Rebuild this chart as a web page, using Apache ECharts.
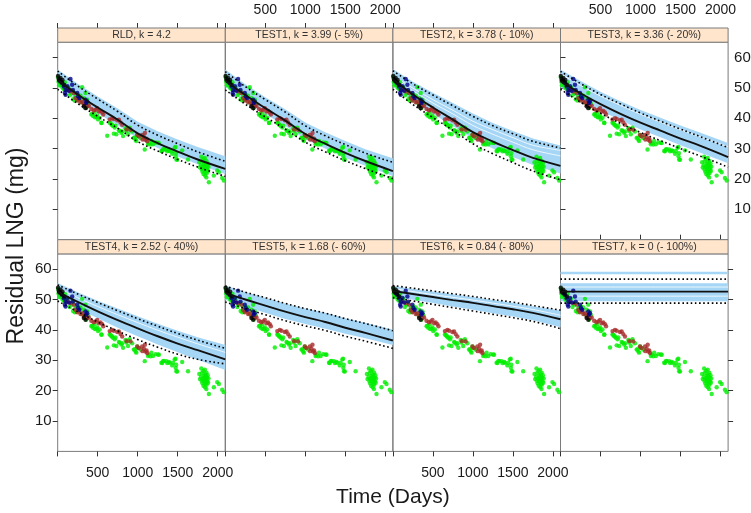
<!DOCTYPE html>
<html><head><meta charset="utf-8">
<script src="https://cdn.jsdelivr.net/npm/echarts@6/dist/echarts.min.js"></script>
<style>html,body{margin:0;padding:0;background:#fff}#c{width:751px;height:513px}</style>
</head><body><div id="c"></div>
<script>
// ---------------- data ----------------
const panelTitles = ['RLD, k = 4.2','TEST1, k = 3.99 (- 5%)','TEST2, k = 3.78 (- 10%)','TEST3, k = 3.36 (- 20%)',
                     'TEST4, k = 2.52 (- 40%)','TEST5, k = 1.68 (- 60%)','TEST6, k = 0.84 (- 80%)','TEST7, k = 0 (- 100%)'];
const xTickValues = [0, 500, 1000, 1500, 2000];
const xLabelValues = [500, 1000, 1500, 2000];
const yTickValues = [10, 20, 30, 40, 50, 60];
const times = [0, 250, 500, 750, 1000, 1250, 1500, 1750, 2095];

const medRLD = [52.6, 47.8, 43.5, 39.5, 35.0, 31.8, 29.0, 26.4, 23.3];
const hiRLD  = [56.0, 51.3, 47.1, 43.2, 38.8, 35.7, 33.0, 30.5, 27.5];
const loRLD  = [50.5, 45.8, 41.6, 37.7, 33.3, 30.2, 27.4, 24.8, 21.6];
const dHiRLD = [55.5, 50.6, 46.3, 42.2, 37.7, 34.4, 31.6, 28.9, 25.8];
const dLoRLD = [49.5, 44.8, 40.6, 36.7, 32.3, 29.2, 26.4, 23.9, 20.8];

const med1 = [52.4, 47.6, 43.3, 39.2, 34.8, 31.6, 28.6, 25.9, 22.6];
const hi1  = [56.0, 51.2, 46.9, 42.9, 38.6, 35.4, 32.5, 29.8, 26.8];
const lo1  = [50.3, 45.6, 41.4, 37.4, 33.1, 30.0, 27.0, 24.3, 21.0];
const dHi1 = [55.3, 50.4, 46.1, 42.0, 37.5, 34.2, 31.3, 28.5, 25.5];
const dLo1 = [49.3, 44.6, 40.4, 36.4, 32.1, 28.9, 26.0, 23.4, 20.1];

const med2 = [52.8, 47.8, 43.5, 39.5, 35.4, 32.3, 29.5, 26.9, 24.3];
const hi2  = [56.2, 52.0, 48.4, 45.0, 41.5, 38.4, 35.8, 33.3, 31.0];
const lo2  = [50.4, 45.6, 41.4, 37.4, 33.2, 30.0, 27.2, 24.6, 21.8];
const dHi2 = [55.6, 51.3, 47.6, 44.1, 40.6, 37.5, 34.9, 32.4, 30.2];
const dLo2 = [49.5, 44.5, 40.2, 36.0, 31.6, 28.3, 25.4, 22.6, 19.7];
const wA2  = [54.0, 49.9, 46.1, 42.6, 39.0, 36.2, 33.6, 31.1, 29.4];
const wB2  = [53.4, 49.0, 45.0, 41.4, 37.6, 34.7, 32.1, 29.6, 27.6];

const med3 = [52.2, 48.2, 44.6, 41.4, 38.5, 35.9, 33.3, 30.9, 27.2];
const hi3  = [56.0, 52.2, 48.7, 45.6, 42.7, 40.1, 37.6, 35.2, 31.8];
const lo3  = [50.2, 46.2, 42.5, 39.3, 36.3, 33.7, 31.1, 28.6, 25.2];
const dHi3 = [55.4, 51.4, 47.8, 44.7, 41.7, 39.0, 36.4, 33.9, 30.3];
const dLo3 = [49.5, 45.3, 41.6, 38.3, 35.3, 32.6, 30.0, 27.5, 23.9];
const wA3  = [54.6, 50.8, 47.3, 44.2, 41.3, 38.7, 36.2, 33.8, 30.6];

const med4 = [52.5, 49.2, 46.1, 43.2, 40.5, 37.9, 35.5, 33.3, 30.3];
const hi4  = [55.4, 52.4, 49.6, 47.0, 44.5, 42.0, 39.7, 37.6, 35.0];
const lo4  = [50.5, 47.0, 43.8, 40.7, 37.9, 35.2, 32.6, 30.2, 26.8];
const dHi4 = [54.8, 51.8, 49.0, 46.3, 43.7, 41.2, 38.8, 36.6, 33.9];
const dLo4 = [49.5, 46.0, 42.6, 39.6, 36.8, 34.3, 32.0, 30.3, 28.8];
const wA4  = [53.8, 50.6, 47.7, 45.0, 42.4, 39.9, 37.6, 35.4, 32.6];

const med5 = [52.2, 50.0, 48.0, 46.0, 44.2, 42.6, 40.7, 39.0, 36.5];
const hi5  = [54.6, 52.5, 50.6, 48.7, 47.0, 45.6, 43.8, 42.3, 40.1];
const lo5  = [49.8, 47.6, 45.6, 43.6, 41.9, 40.4, 38.7, 37.2, 35.0];
const dHi5 = [54.4, 52.4, 50.6, 48.7, 47.0, 45.5, 43.7, 42.1, 39.7];
const dLo5 = [49.2, 47.0, 45.0, 43.0, 41.3, 39.8, 37.9, 36.3, 33.9];

const med6 = [52.8, 51.8, 50.8, 49.8, 48.9, 47.8, 46.8, 45.6, 43.5];
const hi6  = [54.4, 53.5, 52.6, 51.7, 50.8, 49.8, 48.9, 47.8, 46.4];
const lo6  = [51.0, 49.9, 48.8, 47.7, 46.6, 45.5, 44.4, 43.2, 40.9];
const dHi6 = [54.6, 53.7, 52.8, 51.9, 51.0, 50.0, 49.1, 48.0, 46.5];
const dLo6 = [50.6, 49.5, 48.4, 47.3, 46.2, 45.1, 44.0, 42.8, 40.4];
const wA6  = [53.6, 52.6, 51.6, 50.7, 49.8, 48.8, 47.8, 46.7, 44.8];

const med7 = [52.6, 52.6, 52.6, 52.6, 52.6, 52.6, 52.6, 52.6, 52.6];
const hi7  = [55.3, 55.3, 55.3, 55.3, 55.3, 55.3, 55.3, 55.3, 55.3];
const lo7  = [49.4, 49.4, 49.4, 49.4, 49.4, 49.4, 49.4, 49.4, 49.4];
const dHi7 = [56.7, 56.7, 56.7, 56.7, 56.7, 56.7, 56.7, 56.7, 56.7];
const dLo7 = [48.8, 48.8, 48.8, 48.8, 48.8, 48.8, 48.8, 48.8, 48.8];
const hiB7 = [59.1, 59.1, 59.1, 59.1, 59.1, 59.1, 59.1, 59.1, 59.1];
const loB7 = [58.3, 58.3, 58.3, 58.3, 58.3, 58.3, 58.3, 58.3, 58.3];
const wA7  = [54.1, 54.1, 54.1, 54.1, 54.1, 54.1, 54.1, 54.1, 54.1];
const wB7  = [51.1, 51.1, 51.1, 51.1, 51.1, 51.1, 51.1, 51.1, 51.1];

// observed data (same in every panel): [days, mg]
const greenPts = [[5,53.5],[10,52.0],[18,50.8],[25,52.6],[35,51.4],[48,51.0],[60,50.0],[77,49.6],[90,51.8],[110,49.2],
 [131,50.2],[150,47.5],[173,48.3],[190,48.8],[192,46.2],[212,45.8],[223,47.2],[240,46.0],[256,47.7],[285,47.4],[300,45.2],
 [306,50.2],[327,46.6],[340,44.6],[348,48.3],[358,43.4],[369,46.1],[380,44.8],
 [421,41.2],[431,41.4],[442,40.7],[462,41.8],[465,40.3],[483,40.4],[494,40.8],[504,39.6],[525,40.1],[546,38.5],[548,38.4],
 [619,34.2],[650,38.5],[660,38.4],[671,37.9],[681,37.8],[692,37.4],[702,34.9],[713,36.9],[723,37.5],[733,34.7],[765,36.0],
 [775,35.8],[796,35.2],[806,35.6],[817,34.1],[848,36.7],[858,35.8],[879,34.7],[881,36.4],[900,36.9],[931,35.6],[952,33.5],
 [963,33.6],[973,32.9],[983,32.5],[994,34.5],[1004,34.1],[1035,33.5],[1088,29.7],[1129,31.4],[1140,31.8],[1160,31.3],
 [1171,32.5],[1192,31.4],[1223,32.0],[1254,31.9],[1265,31.8],[1296,29.2],[1306,29.1],[1317,29.7],[1327,29.8],[1358,29.7],
 [1369,29.1],[1390,29.4],[1400,29.2],[1431,28.3],[1442,29.2],[1463,30.3],[1473,30.5],[1475,27.5],[1481,28.5],[1483,26.4],
 [1494,26.3],[1556,29.4],[1629,26.4],
 [1770,25.5],[1778,23.8],[1790,24.5],[1795,27.3],[1800,23.2],[1805,25.8],[1810,22.4],[1815,24.0],[1820,26.5],[1822,21.6],
 [1828,23.6],[1830,25.0],[1835,22.9],[1838,24.4],[1840,26.9],[1842,21.1],[1845,23.9],[1848,25.3],[1850,22.3],[1853,24.7],
 [1856,23.3],[1858,20.5],[1860,25.9],[1862,21.9],[1866,24.2],[1870,23.0],[1875,25.1],[1880,22.6],[1885,24.0],[1890,18.9],
 [1952,21.1],[1994,22.8],[2015,22.2],[2056,20.3],[2077,19.5]];
const brownPts = [[119,49.3],[160,48.8],[202,48.3],[223,46.6],[244,45.8],[265,46.3],[285,45.2],[306,45.5],[327,44.4],
 [348,45.0],[369,43.9],[390,44.1],[420,43.0],[450,42.5],[473,42.8],[494,43.3],[515,42.2],[535,42.4],[556,41.9],[570,41.2],
 [650,39.6],[681,40.0],[702,39.7],[744,39.3],[765,39.5],[785,38.6],[806,37.8],[860,36.3],[910,36.2],[994,34.5],[1015,34.0],
 [1056,34.5],[1060,33.0],[1077,33.8],[1090,35.1],[1098,32.9],[1110,33.2],[1119,32.4]];
const bluePts = [[35,52.1],[56,51.5],[77,50.4],[90,48.3],[98,49.3],[98,47.7],[120,50.5],[140,49.0],[160,52.9],[181,51.0],
 [190,49.3],[244,48.3],[256,47.2],[273,46.6],[348,46.1],[356,45.0],[369,45.5]];
const blackPts = [[4,53.9],[12,52.9],[20,52.4],[35,53.2],[50,51.8],[60,52.6],[80,51.0],[327,43.9],[348,43.3]];

// ---------------- layout / style ----------------
const PL = 57.7, PW = 167.6, STRIP = 14.2, PH = 197.5;
const rowTop = [28, 28 + STRIP + PH];
const XMAX = 2095, YMAX = 65;
const BAND = '#a6d6f5', FONT = '"Liberation Sans", Arial, sans-serif', BORDER = '#7a7a7a', TXT = '#1a1a1a';

const panels = [
  {med: medRLD, hi: hiRLD, lo: loRLD, dHi: dHiRLD, dLo: dLoRLD, whites: []},
  {med: med1, hi: hi1, lo: lo1, dHi: dHi1, dLo: dLo1, whites: []},
  {med: med2, hi: hi2, lo: lo2, dHi: dHi2, dLo: dLo2, whites: [wA2, wB2]},
  {med: med3, hi: hi3, lo: lo3, dHi: dHi3, dLo: dLo3, whites: [wA3]},
  {med: med4, hi: hi4, lo: lo4, dHi: dHi4, dLo: dLo4, whites: [wA4]},
  {med: med5, hi: hi5, lo: lo5, dHi: dHi5, dLo: dLo5, whites: []},
  {med: med6, hi: hi6, lo: lo6, dHi: dHi6, dLo: dLo6, whites: [wA6]},
  {med: med7, hi: hi7, lo: lo7, dHi: dHi7, dLo: dLo7, whites: [wA7, wB7], extra: [loB7, hiB7]}
];

const grids = [], xAxes = [], yAxes = [], series = [], graphics = [];
const pairs = arr => times.map((t, i) => [t, arr[i]]);
const tick = {show: true, length: 5, lineStyle: {color: '#333'}};
const plain = v => String(v);

function xAxisDef(grid, position, showLabels, extra) {
  return Object.assign({gridIndex: grid, type: 'value', min: 0, max: XMAX, position,
    axisLine: {show: false}, splitLine: {show: false},
    axisTick: Object.assign({customValues: xTickValues}, tick),
    axisLabel: {show: showLabels, customValues: xLabelValues, formatter: plain, fontSize: 14, color: TXT,
                fontFamily: FONT, margin: position === 'top' ? 11 : 15}}, extra || {});
}
function yAxisDef(grid, position, showLabels, extra) {
  return Object.assign({gridIndex: grid, type: 'value', min: 0, max: YMAX, position,
    axisLine: {show: false}, splitLine: {show: false},
    axisTick: Object.assign({customValues: yTickValues}, tick),
    axisLabel: {show: showLabels, customValues: yTickValues, formatter: plain, fontSize: 15, color: TXT,
                fontFamily: FONT, margin: 6}}, extra || {});
}

panels.forEach((P, p) => {
  const r = Math.floor(p / 4), c = p % 4;
  grids.push({left: PL + c * PW, top: rowTop[r] + STRIP, width: PW, height: PH, show: true,
              borderColor: BORDER, borderWidth: 1, backgroundColor: 'transparent',
              outerBoundsMode: 'none', containLabel: false});
  xAxes.push(xAxisDef(p, 'bottom', c % 2 === 0, {show: r === 1}));
  yAxes.push(yAxisDef(p, 'left', r === 1, {show: c === 0}));
});
for (let c = 0; c < 4; c++) xAxes.push(xAxisDef(c, 'top', c % 2 === 1, {offset: STRIP}));
yAxes.push(yAxisDef(3, 'right', true));
yAxes.push(yAxisDef(7, 'right', false));

function bandSeries(p, lo, hi) {
  return {type: 'custom', xAxisIndex: p, yAxisIndex: p, clip: true, silent: true, z: 1,
    data: [[times[0], lo[0]]],
    renderItem: (params, api) => {
      const pts = [];
      for (let i = 0; i < times.length; i++) pts.push(api.coord([times[i], hi[i]]));
      for (let i = times.length - 1; i >= 0; i--) pts.push(api.coord([times[i], lo[i]]));
      return {type: 'polygon', shape: {points: pts}, style: {fill: BAND}};
    }};
}

panels.forEach((P, p) => {
  const ax = {xAxisIndex: p, yAxisIndex: p};
  series.push(bandSeries(p, P.lo, P.hi));
  if (P.extra) series.push(bandSeries(p, P.extra[0], P.extra[1]));
  P.whites.forEach(w => series.push(Object.assign({type: 'line', data: pairs(w), smooth: 0.4, symbol: 'none',
    lineStyle: {color: '#ffffff', width: 1, opacity: 0.8}, silent: true, z: 2}, ax)));
  const sc = (pts, col) => series.push(Object.assign({type: 'scatter', data: pts, symbol: 'circle', symbolSize: 4.4,
    itemStyle: {color: col}, silent: true, z: 3}, ax));
  sc(greenPts, '#00ee00');
  sc(brownPts, '#a52a2a');
  sc(bluePts, '#00008b');
  sc(blackPts, '#000000');
  [P.dHi, P.dLo].forEach(d => series.push(Object.assign({type: 'line', data: pairs(d), smooth: 0.4, symbol: 'none',
    lineStyle: {color: '#000', width: 1.6, type: [1.6, 2.6]}, silent: true, z: 4}, ax)));
  series.push(Object.assign({type: 'line', data: pairs(P.med), smooth: 0.4, symbol: 'none',
    lineStyle: {color: '#111', width: 1.9}, silent: true, z: 5}, ax));

  const r = Math.floor(p / 4), c = p % 4;
  graphics.push({type: 'rect', shape: {x: PL + c * PW, y: rowTop[r], width: PW, height: STRIP},
    style: {fill: '#ffe5cc', stroke: BORDER, lineWidth: 1}, z: 10});
  graphics.push({type: 'text', x: PL + c * PW + PW / 2, y: rowTop[r] + STRIP / 2 + 0.5,
    style: {text: panelTitles[p], fill: '#333', font: '10.5px ' + FONT, align: 'center', verticalAlign: 'middle'}, z: 11});
});

graphics.push({type: 'text', x: PL + 2 * PW, y: 497,
  style: {text: 'Time (Days)', fill: TXT, font: '21px ' + FONT, align: 'center', verticalAlign: 'middle'}});
graphics.push({type: 'text', x: 17, y: 246, rotation: Math.PI / 2,
  style: {text: 'Residual LNG (mg)', fill: TXT, font: '23px ' + FONT, align: 'center', verticalAlign: 'middle'}});

const chart = echarts.init(document.getElementById('c'), null, {renderer: 'canvas'});
chart.setOption({animation: false, backgroundColor: '#ffffff', grid: grids, xAxis: xAxes, yAxis: yAxes,
  series, graphic: graphics});
</script></body></html>
